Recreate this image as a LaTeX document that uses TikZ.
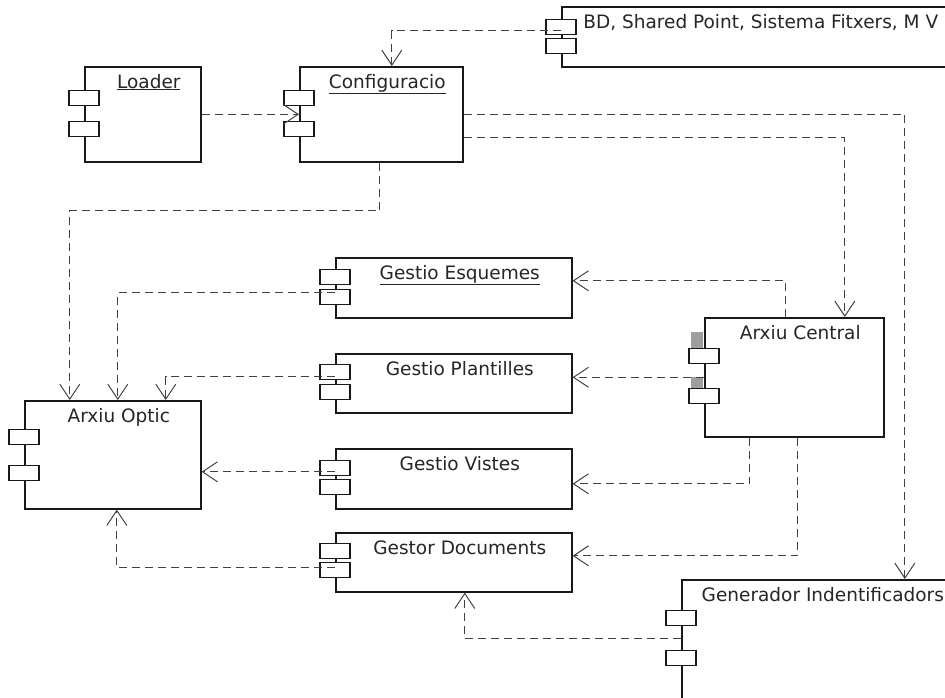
\documentclass[tikz,border=0pt]{standalone}
\usepackage{fontspec}
\setmainfont{DejaVu Sans}
\usetikzlibrary{calc}
\usetikzlibrary{arrows.meta, positioning, shadows}
\definecolor{LIN}{HTML}{404040}
\definecolor{SEL}{HTML}{9E9E9E}
\tikzset{
  COMP/.style={% Style for the component body
      rectangle, line width=1.6pt,
      anchor=north west,
      inner sep=0pt,
      fill=white,
      draw=black!90,
      drop shadow={shadow xshift=1.5pt, shadow yshift=-1.5pt, opacity=.35},
  },
  PORT/.style={% Style for the two small boxes on the left side
      rectangle, line width=1.2pt,
      anchor=north,
      minimum width=30pt,
      minimum height=15pt,
      inner sep=0pt,
      fill=white,
      draw=black!90,
  },
  TXT/.style={
      anchor=base,
      inner sep=0pt,
      text=black!85,
      font=\fontsize{18.5}{22}\selectfont,
  },
  dep/.style={% dashed dependency
      draw=LIN, line width=1pt,
      dash pattern=on 8pt off 5pt,
      -{Straight Barb[length=15pt, width=20pt]},
  }
}
\def\unit(#1)#2[#3]#4#5#6#7{%
  \node[COMP, minimum width=#4pt, minimum height=#5pt] (#2) at (#1) {}; % body, placed by its top left corner
  \node[TXT] (#2-t) at ($(#2.north)+(6,22)$) {#3}; % title
  \foreach \p [count=\i] in {#6,#7} {% the ports, offset from the top
      \node[PORT] (#2-p\i) at ($(#2.north west)+(0,\p)$) {};
  }
}

\begin{document}
\begin{tikzpicture}[x=1pt, y=-1pt]
  \clip (0,0) rectangle (945,697);
  \unit(84,66){loader}[\underline{Loader}]{116}{95}{24}{55}
  \unit(299,66){conf}[\underline{Configuracio}]{163}{95}{24}{55}
  \unit(561,6){bd}[BD, Shared Point, Sistema Fitxers, M V]{386}{60}{13}{32}
  \unit(335,257){esq}[\underline{Gestio Esquemes}]{236}{60}{12}{32}
  \unit(335,353){plan}[Gestio Plantilles]{236}{59}{11}{31}
  \unit(335,448){vis}[Gestio Vistes]{236}{60}{12}{31}
  \unit(335,532){gestor}[Gestor Documents]{236}{59}{11}{30}
  \unit(24,400){optic}[Arxiu Optic]{176}{108}{29}{65}
  \unit(704,317){central}[Arxiu Central]{179}{119}{31}{71}
  \unit(681,579){gen}[Generador Indentificadors]{270}{150}{31}{71}
  \fill[SEL] ($(central.north west)+(-13,15)$) rectangle ($(central.north west)+(-0.8,31)$);
  \fill[SEL] ($(central.north west)+(-13,60)$) rectangle ($(central.north west)+(-0.8,71)$);

  \draw[dep] ($(bd.west)+(0,-6)$) -| ($(conf.north)+(10.5,0)$);
  \draw[dep] (loader.east) -- (conf.west);
  \draw[dep] ($(conf.east)+(0,23.5)$) -| ($(central.north)+(50.5,0)$);
  \draw[dep] (conf.east) -| ($(gen.north)+(88,0)$);
  \draw[dep] ($(conf.south)+(-1.5,0)$) -- ++(0,48) -| ($(optic.north)+(-43,0)$);
  \draw[dep] ($(esq.west)+(0,5)$) -| ($(optic.north)+(5,0)$);
  \draw[dep] ($(plan.west)+(0,-6.5)$) -| ($(optic.north)+(53,0)$);
  \draw[dep] ($(vis.west)+(0,-7)$) -- ($(optic.east)+(0,17)$);
  \draw[dep] ($(gestor.west)+(0,5.5)$) -| ($(optic.south)+(4,0)$);
  \draw[dep] ($(central.north)+(-8.5,0)$) |- ($(esq.east)+(0,-7)$);
  \draw[dep] (central.west) -- (central.west -| plan.east);
  \draw[dep] ($(central.south)+(-44.5,0)$) |- ($(vis.east)+(0,5)$);
  \draw[dep] ($(central.south)+(3.5,0)$) |- ($(gestor.east)+(0,-6.5)$);
  \draw[dep] ($(gen.west)+(0,-16)$) -| ($(gestor.south)+(11,0)$);
\end{tikzpicture}
\end{document}
